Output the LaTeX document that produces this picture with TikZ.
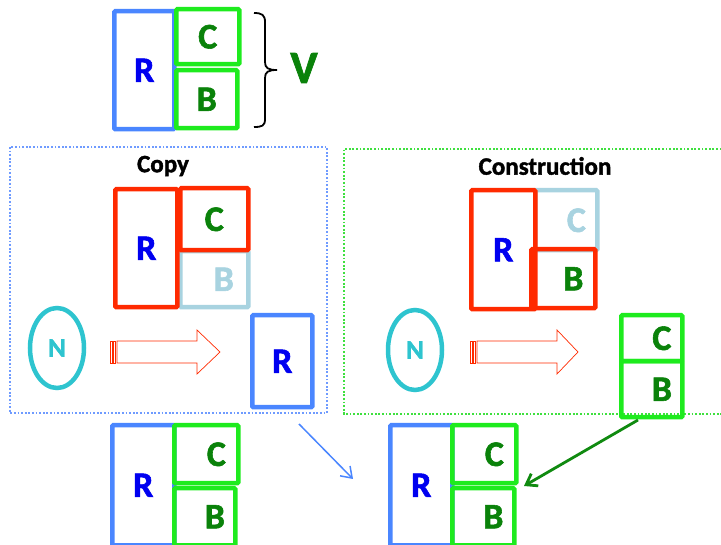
\documentclass[tikz,border=0pt]{standalone}
\usepackage{fontspec}
\setmainfont{Carlito}[BoldFeatures={FakeBold=1.6}]
\usetikzlibrary{arrows.meta,shapes.geometric}
\definecolor{rblue}{HTML}{4A86FF}
\definecolor{rgreen}{HTML}{1EEB1E}
\definecolor{rred}{HTML}{FF2A00}
\definecolor{lblue}{HTML}{A8D3E0}
\definecolor{ncyan}{HTML}{2EC4CF}
\definecolor{tblue}{HTML}{0000F0}
\definecolor{tgreen}{HTML}{0A820A}
\definecolor{dgreen}{HTML}{108A10}
\definecolor{dotblue}{HTML}{6F9BFF}
\definecolor{dotgreen}{HTML}{3FE03F}
\begin{document}
\begin{tikzpicture}[x=1pt,y=-1pt,
  box/.style={draw, line width=4.5pt, rounded corners=1pt, inner sep=0pt, anchor=north west,
    font=\bfseries\fontsize{36}{40}\selectfont},
  bluebox/.style={box, draw=rblue, text=tblue},
  greenbox/.style={box, draw=rgreen, text=tgreen},
  redbox/.style={box, draw=rred},
  paleblue/.style={box, draw=lblue, text=lblue},
  enode/.style={ellipse, draw=ncyan, line width=4.5pt, text=ncyan, inner sep=0pt,
    font=\bfseries\fontsize{27}{30}\selectfont},
  title/.style={font=\bfseries\fontsize{25}{28}\selectfont},
  dotframe/.style={line width=1.2pt, dash pattern=on 1.8pt off 1.8pt},
  bigarrow/.style={draw=rred, line width=0.7pt, fill=white},
  conn/.style={line width=1.6pt, -{Straight Barb[length=10pt,width=14pt]}}
]
\useasboundingbox (0,0) rectangle (721,545);

% ---------- top group ----------
\node[bluebox, minimum width=60pt, minimum height=118pt] (tR) at (112,9) {R};
\node[greenbox, minimum width=63pt, minimum height=55pt] (tC) at (174,7) {C};
\node[greenbox, minimum width=61pt, minimum height=58pt] (tB) at (174,68) {B};
\draw[line width=1.8pt] (254,13) .. controls (262,13) and (265,15) .. (265,22) -- (265,62)
  .. controls (265,68) and (268,70) .. (277,70)
  .. controls (268,70) and (265,72) .. (265,78) -- (265,119)
  .. controls (265,126) and (262,127) .. (254,127);
\node[text=tgreen, font=\bfseries\fontsize{46}{50}\selectfont] (V) at (304,68) {V};

% ---------- Copy frame ----------
\draw[dotframe, draw=dotblue] (10,147) rectangle (327,413);
\node[title] (copyt) at (163,166) {Copy};
\node[paleblue, minimum width=68pt, minimum height=56pt] (cpB) at (178,249) {\phantom{C}B};
\node[redbox, minimum width=62pt, minimum height=118pt, text=tblue] (cpR) at (113,187) {R};
\node[redbox, minimum width=68pt, minimum height=62pt, text=tgreen] (cpC) at (178,186) {C};
\node[enode, minimum width=54pt, minimum height=80pt] (cpN) at (57,348) {N};
\draw[bigarrow] (117,341) -- (197,341) -- (197,330) -- (220,352) -- (197,374) -- (197,363) -- (117,363) -- cycle;
\draw[bigarrow] (110,341) rectangle (112,363);
\draw[bigarrow] (113.5,341) rectangle (115.5,363);
\node[bluebox, minimum width=60pt, minimum height=92pt] (cpR2) at (250,313) {R};

% ---------- Construction frame ----------
\draw[dotframe, draw=dotgreen] (725,149) -- (344,149) -- (344,414) -- (725,414);
\node[title] (cont) at (545,166) {Construction};
\node[paleblue, minimum width=62pt, minimum height=60pt] (csC) at (533,188) {\phantom{B}C};
\node[redbox, minimum width=64pt, minimum height=119pt, text=tblue] (csR) at (469,188) {R};
\node[redbox, minimum width=64pt, minimum height=59pt, text=tgreen] (csB) at (529,247) {\phantom{B}B};
\node[enode, minimum width=54pt, minimum height=80pt] (csN) at (415,350) {N};
\draw[bigarrow] (477,341) -- (557,341) -- (557,330) -- (578,352) -- (557,374) -- (557,363) -- (477,363) -- cycle;
\draw[bigarrow] (470,341) rectangle (472,363);
\draw[bigarrow] (473.5,341) rectangle (475.5,363);
\node[greenbox, minimum width=61pt, minimum height=46pt] (csC2) at (619,313) {\phantom{B}C};
\node[greenbox, minimum width=61pt, minimum height=56pt] (csB2) at (619,359) {\phantom{B}B};

% ---------- bottom left ----------
\node[bluebox, minimum width=62pt, minimum height=120pt] (blR) at (110,423) {R};
\node[greenbox, minimum width=64pt, minimum height=58pt] (blC) at (172,423) {\phantom{B}C};
\node[greenbox, minimum width=61pt, minimum height=57pt] (blB) at (172,486) {\phantom{B}B};

% ---------- bottom right ----------
\node[bluebox, minimum width=62pt, minimum height=120pt] (brR) at (388,423) {R};
\node[greenbox, minimum width=64pt, minimum height=58pt] (brC) at (450,423) {\phantom{B}C};
\node[greenbox, minimum width=62pt, minimum height=57pt] (brB) at (450,486) {\phantom{B}B};

% ---------- connectors ----------
\coordinate (ba1) at (299,424);
\coordinate (ba2) at (353,479);
\coordinate (ga1) at (638,420);
\coordinate (ga2) at (524,486);
\draw[conn, draw=rblue, line width=1.5pt] (ba1) -- (ba2);
\draw[conn, draw=dgreen, line width=2.8pt] (ga1) -- (ga2);
\end{tikzpicture}
\end{document}
